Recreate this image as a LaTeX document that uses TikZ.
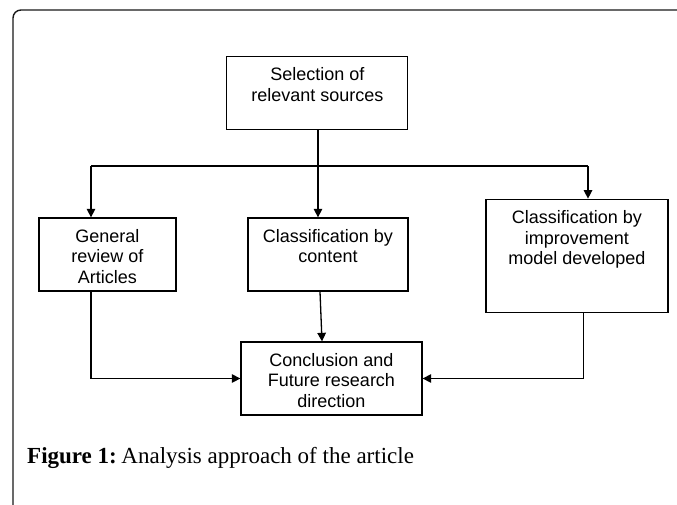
\documentclass[tikz,border=0pt]{standalone}
\usepackage{fontspec}
\setmainfont{Liberation Serif}
\newfontfamily\boxfont{Liberation Sans}
\usetikzlibrary{arrows.meta}
\newcommand\mybt[3]{\parbox[c][#2][t]{#1}{\centering\boxfont\fontsize{18pt}{20.3pt}\selectfont\rule{0pt}{24.5pt}#3}}
\begin{document}
\begin{tikzpicture}[x=1pt,y=-1pt,
  stepbox/.style={draw=black, line width=1.3pt, inner sep=0pt},
  conn/.style={draw=black, line width=1.3pt},
  arr/.style={conn, -{Triangle[length=8.5pt,width=8.5pt]}}]
\useasboundingbox (0,0) rectangle (677,504);
\clip (0,0) rectangle (677,504);
\draw[black!90, line width=1.4pt, rounded corners=8pt] (13,10) rectangle (720,540);

\node[stepbox] (sel) at (317.3,92.7) {\mybt{181pt}{73pt}{Selection of\\relevant sources}};
\node[stepbox] (gen) at (107.4,254.5) {\mybt{137pt}{73pt}{General\\review of\\Articles}};
\node[stepbox] (mid) at (328,254.5) {\mybt{160pt}{73pt}{Classification by\\content}};
\node[stepbox] (imp) at (576.9,255.8) {\mybt{182pt}{113pt}{Classification by\\improvement\\model developed}};
\node[stepbox] (con) at (331.5,378.5) {\mybt{181pt}{73pt}{Conclusion and\\Future research\\direction}};

\coordinate (j) at (318,166);
\coordinate (jl) at (91,166);
\coordinate (jr) at (588,166);
\coordinate (rx) at (583.5,0);

\draw[conn] (sel.south -| j) -- (j);
\draw[conn] (jl) -- (jr);
\draw[arr] (jl) -- (jl |- gen.north);
\draw[arr] (j) -- (j |- mid.north);
\draw[arr] (jr) -- (jr |- imp.north);
\draw[arr] ([xshift=-8pt]mid.south) -- ([xshift=-9.5pt]con.north);
\draw[arr] (jl |- gen.south) |- (con.west);
\draw[arr] (rx |- imp.south) |- (con.east);

\node[anchor=base west, inner sep=0pt] (cap) at (27,463) {\fontsize{23pt}{28pt}\selectfont\textbf{Figure 1:}\hspace{0.2em}Analysis approach of the article};
\end{tikzpicture}
\end{document}
